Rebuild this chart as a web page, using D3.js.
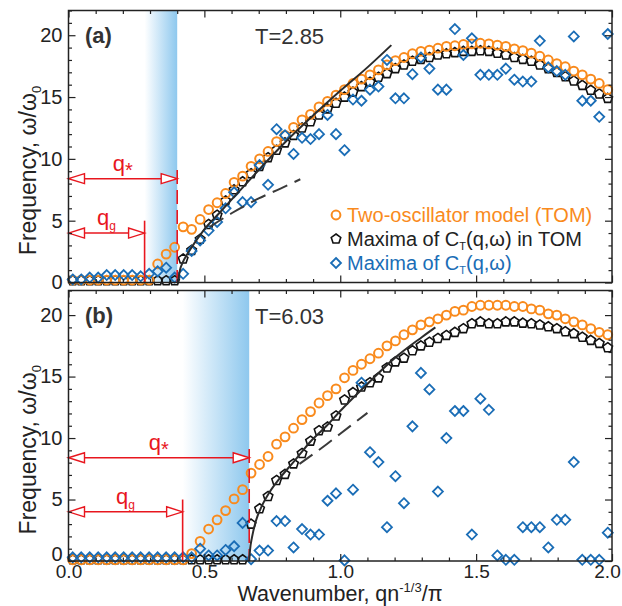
<!DOCTYPE html>
<html>
<head>
<meta charset="utf-8">
<script src="https://cdn.jsdelivr.net/npm/d3@7"></script>
<style>
body{margin:0;background:#fff}
text{font-family:"Liberation Sans",Arial,sans-serif}
</style>
</head>
<body>
<div id="chart"></div>
<script>
var width = 622, height = 606

// wavenumber grid (q n^-1/3 / pi), 64 samples
var qGrid = d3.range(64).map(k => (k + 0.5) / 32)

// panel (a), T=2.85
var tomA = [0.2,0.2,0.2,0.2,0.2,0.2,0.2,0.2,0.2,0.2,
  1.5,2.3,2.85,4.5,4.3,5.1,5.9,6.45,7.2,8.1,
  8.6,9.4,10.0,10.6,11.4,11.9,12.55,13.15,13.6,14.2,
  14.65,15.15,15.6,16.1,16.45,16.8,17.2,17.6,17.95,18.2,
  18.5,18.7,18.8,18.95,19.1,19.15,19.25,19.3,19.35,19.3,
  19.2,19.1,18.9,18.75,18.55,18.3,18.0,17.7,17.45,17.1,
  16.8,16.45,16.1,15.6]
var pentA = [0.15,0.15,0.15,0.15,0.15,0.15,0.15,0.15,0.15,0.15,
  0.15,0.15,0.15,1.9,2.6,3.5,4.7,5.45,6.6,7.5,
  8.15,8.8,9.4,10.1,10.7,11.3,11.9,12.5,13.0,13.55,
  14.05,14.5,15.0,15.4,15.85,16.2,16.6,16.9,17.3,17.6,
  17.9,18.05,18.2,18.4,18.5,18.6,18.7,18.7,18.75,18.7,
  18.55,18.4,18.2,18.05,17.9,17.6,17.3,17.0,16.65,16.3,
  15.95,15.55,15.25,14.9]
var diamA = [0.25,0.25,0.4,0.4,0.6,0.6,0.6,0.6,0.5,0.7,
  0.9,1.2,0.4,0.7,2.55,3.4,4.2,4.9,6.0,7.3,
  6.5,6.5,9.5,7.9,12.4,11.9,10.4,11.7,11.6,12.0,
  13.55,12.0,10.7,14.8,14.7,15.6,15.85,18.0,14.9,14.9,
  16.85,18.2,17.3,15.6,15.6,20.5,18.4,19.75,16.8,16.8,
  16.8,17.3,16.4,16.25,16.25,19.55,17.4,17.1,16.8,19.9,
  14.7,14.7,13.4,20.1]
var solidA = [[0.403,0],[0.41,1.0],[0.42,1.6],[0.44,2.4],[0.47,3.4],[0.5,4.3],[0.55,5.5],
  [0.6,6.7],[0.65,7.9],[0.7,9.1],[0.8,11.4],[0.9,13.5],[1.0,15.5],[1.1,17.4],[1.188,19.2]]
var dashA = [[0.52,4.5],[0.6,5.6],[0.7,6.8],[0.78,7.6],[0.853,8.35]]

// panel (b), T=6.03
var tomB = [0.1,0.1,0.1,0.1,0.1,0.1,0.1,0.1,0.1,0.1,
  0.1,0.1,0.1,0.1,0.6,1.6,2.6,3.35,4.1,5.05,
  5.8,7.15,7.85,8.5,9.5,10.1,10.8,11.5,12.15,12.85,
  13.45,14.0,14.9,15.5,16.0,16.45,16.9,17.5,17.9,18.4,
  18.8,19.2,19.45,19.7,20.0,20.3,20.4,20.7,20.8,20.8,
  20.8,20.8,20.7,20.7,20.5,20.4,20.1,20.0,19.7,19.45,
  19.2,18.9,18.6,18.4]
var pentB = [0.1,0.1,0.1,0.1,0.1,0.1,0.1,0.1,0.1,0.1,
  0.1,0.1,0.1,0.1,0.1,0.1,0.1,0.1,0.1,0.1,
  0.1,3.0,4.25,5.25,6.55,7.05,7.9,8.75,9.75,10.6,
  10.9,11.8,13.1,13.7,14.15,14.5,14.9,15.7,16.2,16.5,
  17.1,17.5,17.8,18.1,18.35,18.6,18.9,19.3,19.45,19.3,
  19.3,19.45,19.45,19.35,19.3,19.2,19.05,18.9,18.65,18.5,
  18.2,17.95,17.7,17.35]
var diamB = [0.3,0.3,0.3,0.3,0.3,0.3,0.3,0.3,0.3,0.3,
  0.3,0.3,0.3,0.3,0.3,1.0,0.45,0.45,0.9,1.2,
  3.1,0.15,0.85,0.85,3.25,3.25,1.1,2.6,2.15,2.15,
  4.9,5.5,0.05,5.8,14.5,8.85,8.05,2.75,6.9,4.7,
  10.95,15.3,13.95,5.65,10.0,12.2,12.2,2.15,13.2,12.3,
  0.45,0.1,0.1,2.75,2.75,2.75,1.1,3.35,3.35,8.05,
  0.1,0.1,0.1,2.3]
var solidB = [[0.665,0],[0.668,0.9],[0.675,1.9],[0.69,3.3],[0.71,4.4],[0.74,5.6],[0.78,6.8],
  [0.83,8.1],[0.89,9.7],[0.95,11.0],[1.0,12.2],[1.1,14.4],[1.2,16.5],[1.3,18.2],[1.35,19.0]]
var dashB = [[0.85,7.9],[0.95,9.5],[1.0,10.35],[1.1,12.05]]

var yTicks = [0,5,10,15,20]
var xTicks = [0,0.5,1,1.5,2]
var panelTags = ["(a)","(b)"]
var panelTemps = ["T=2.85","T=6.03"]
var qgVals = [0.28,0.42]
var qsVals = [0.40,0.665]
var legendLabels = ["Two-oscillator model (TOM)","Maxima of C|T|(q,ω) in TOM","Maxima of C|T|(q,ω)"]

var orange = "#f98a1c", blue = "#1a6db6", red = "#e8161e", ink = "#222"

var svg = d3.select("#chart").append("svg")
  .attr("width",width).attr("height",height)

var x = d3.scaleLinear().domain([0,2]).range([68.5,612])
var defs = svg.append("defs")

function pentPath(r){
  var pts = d3.range(5).map(i=>{
    var a = -Math.PI/2 + i*2*Math.PI/5
    return [r*Math.cos(a), r*Math.sin(a)]
  })
  return "M" + pts.join("L") + "Z"
}
var diamPath = "M0,-5L5,0L0,5L-5,0Z"

function arrow(g, x0, x1, yy){
  var L = 16, h = 5
  g.append("line").attr("x1",x0+L).attr("x2",x1-L).attr("y1",yy).attr("y2",yy)
    .attr("stroke",red).attr("stroke-width",1.5)
  g.append("path").attr("d",`M${x0},${yy}L${x0+L},${yy-h}L${x0+L},${yy+h}Z`)
    .attr("fill","#fff").attr("stroke",red).attr("stroke-width",1.4)
  g.append("path").attr("d",`M${x1},${yy}L${x1-L},${yy-h}L${x1-L},${yy+h}Z`)
    .attr("fill","#fff").attr("stroke",red).attr("stroke-width",1.4)
}

function panel(i, top, bottom, tom, pent, diam, solid, dash){
  var y = d3.scaleLinear().domain([0,22]).range([bottom,top])
  var g = svg.append("g")

  // blue shaded band between q_g and q_*
  var grad = defs.append("linearGradient").attr("id","shade"+i)
    .attr("gradientUnits","userSpaceOnUse")
    .attr("x1",x(qgVals[i])).attr("x2",x(qsVals[i])).attr("y1",0).attr("y2",0)
  grad.append("stop").attr("offset",0).attr("stop-color","#ffffff")
  grad.append("stop").attr("offset",1).attr("stop-color","#8ec8ee")
  g.append("rect").attr("x",x(qgVals[i])).attr("y",top)
    .attr("width",x(qsVals[i])-x(qgVals[i])).attr("height",bottom-top)
    .attr("fill",`url(#shade${i})`)

  g.append("g").selectAll("path").data(pent).enter().append("path")
    .attr("d",pentPath(5))
    .attr("transform",(d,k)=>`translate(${x(qGrid[k])},${y(d)})`)
    .attr("fill","none").attr("stroke","#111").attr("stroke-width",1.6)

  g.append("g").selectAll("circle").data(tom).enter().append("circle")
    .attr("cx",(d,k)=>x(qGrid[k])).attr("cy",d=>y(d)).attr("r",4.4)
    .attr("fill","none").attr("stroke",orange).attr("stroke-width",2)

  g.append("g").selectAll("path").data(diam).enter().append("path")
    .attr("d",diamPath)
    .attr("transform",(d,k)=>`translate(${x(qGrid[k])},${y(d)})`)
    .attr("fill","none").attr("stroke",blue).attr("stroke-width",1.8)

  // red annotations
  var qg = x(qgVals[i]), qs = x(qsVals[i])
  g.append("line").attr("x1",qg).attr("x2",qg).attr("y1",y(0)).attr("y2",y(5))
    .attr("stroke",red).attr("stroke-width",1.6)
  g.append("line").attr("x1",qs).attr("x2",qs).attr("y1",y(9.1)).attr("y2",y(0))
    .attr("stroke",red).attr("stroke-width",1.6).attr("stroke-dasharray","14,6")
  arrow(g, x(0), qg, y(4))
  arrow(g, x(0), qs, y(8.4))

  var tg = g.append("text").attr("x",(x(0)+qg)/2).attr("y",y(4)-8)
    .attr("text-anchor","middle").attr("fill",red).style("font-size","22px")
  tg.append("tspan").text("q")
  tg.append("tspan").text("g").attr("dy",5).style("font-size","12px")
  var ts = g.append("text").attr("x",(x(0)+qs)/2).attr("y",y(8.4)-8)
    .attr("text-anchor","middle").attr("fill",red).style("font-size","22px")
  ts.append("tspan").text("q")
  ts.append("tspan").text("*").attr("dy",6).style("font-size","20px")

  // fitted curves
  var line = d3.line().x(d=>x(d[0])).y(d=>y(d[1])).curve(d3.curveMonotoneX)
  g.append("path").datum(solid).attr("d",line)
    .attr("fill","none").attr("stroke","#2b2b2b").attr("stroke-width",2)
  g.append("path").datum(dash).attr("d",line)
    .attr("fill","none").attr("stroke","#3a3a3a").attr("stroke-width",2)
    .attr("stroke-dasharray","16,8")

  // frame and ticks
  g.append("rect").attr("x",x(0)).attr("y",top).attr("width",x(2)-x(0)).attr("height",bottom-top)
    .attr("fill","none").attr("stroke",ink).attr("stroke-width",1.5)

  var yMinor = d3.range(0,23).filter(v=>v%5!=0)
  var xMinor = d3.range(0,21).map(v=>v/10).filter(v=>Math.round(v*10)%5!=0)

  function clean(s){
    s.select(".domain").remove()
    s.selectAll("line").attr("stroke",ink).attr("stroke-width",1.2)
    s.selectAll("text").attr("fill",ink).style("font-size","20px")
      .style("font-family","'Liberation Sans',Arial,sans-serif")
  }
  var lax = g.append("g").attr("transform",`translate(${x(0)},0)`)
    .call(d3.axisLeft(y).tickValues(yTicks).tickSize(-7).tickPadding(6)).call(clean)
  if(i==1) lax.selectAll("text").filter(d=>d==0).attr("dy","-0.05em")
  g.append("g").attr("transform",`translate(${x(0)},0)`)
    .call(d3.axisLeft(y).tickValues(yMinor).tickSize(-3.5).tickFormat("")).call(clean)
  g.append("g").attr("transform",`translate(${x(2)},0)`)
    .call(d3.axisRight(y).tickValues(yTicks).tickSize(-7).tickFormat("")).call(clean)
  g.append("g").attr("transform",`translate(${x(2)},0)`)
    .call(d3.axisRight(y).tickValues(yMinor).tickSize(-3.5).tickFormat("")).call(clean)
  g.append("g").attr("transform",`translate(0,${top})`)
    .call(d3.axisTop(x).tickValues(xTicks).tickSize(-7).tickFormat("")).call(clean)
  g.append("g").attr("transform",`translate(0,${top})`)
    .call(d3.axisTop(x).tickValues(xMinor).tickSize(-3.5).tickFormat("")).call(clean)
  var bx = d3.axisBottom(x).tickValues(xTicks).tickSize(-7).tickPadding(4)
  if(i==1) bx.tickFormat(d3.format(".1f")); else bx.tickFormat("")
  var bax = g.append("g").attr("transform",`translate(0,${bottom})`).call(bx).call(clean)
  if(i==1){
    bax.selectAll("text").style("font-size","19px")
    bax.selectAll("text").filter(d=>d==2).attr("x",-5)
  }
  g.append("g").attr("transform",`translate(0,${bottom})`)
    .call(d3.axisBottom(x).tickValues(xMinor).tickSize(-3.5).tickFormat("")).call(clean)

  // panel tags
  g.append("text").attr("x",85).attr("y",top+32.5).text(panelTags[i])
    .attr("fill","#333").style("font-size","22px").style("font-weight","bold")
  g.append("text").attr("x",255).attr("y",top+33).text(panelTemps[i])
    .attr("fill","#333").style("font-size","22px")

  // y title
  var yt = g.append("text")
    .attr("transform",`translate(36,${(top+bottom)/2+24})rotate(-90)`)
    .attr("text-anchor","middle").attr("fill",ink).style("font-size","23px")
  yt.append("tspan").text("Frequency, ω/ω")
  yt.append("tspan").text("0").attr("dy",5).style("font-size","13px")

  return y
}

panel(0, 10.5, 282.5, tomA, pentA, diamA, solidA, dashA)
panel(1, 290.5, 561, tomB, pentB, diamB, solidB, dashB)

// legend in panel (a)
var leg = svg.append("g")
var legColors = [orange, "#222", blue]
legendLabels.forEach((lab,j)=>{
  var cy = 215 + j*24
  if(j==0) leg.append("circle").attr("cx",336).attr("cy",cy).attr("r",4.4)
    .attr("fill","none").attr("stroke",orange).attr("stroke-width",2)
  if(j==1) leg.append("path").attr("d",pentPath(5)).attr("transform",`translate(336,${cy})`)
    .attr("fill","none").attr("stroke","#111").attr("stroke-width",1.6)
  if(j==2) leg.append("path").attr("d",diamPath).attr("transform",`translate(336,${cy})`)
    .attr("fill","none").attr("stroke",blue).attr("stroke-width",1.8)
  var t = leg.append("text").attr("x",347).attr("y",cy+7)
    .attr("fill",legColors[j]).style("font-size","20px")
  var parts = lab.split("|")
  t.append("tspan").text(parts[0])
  if(parts.length>1){
    t.append("tspan").text(parts[1]).attr("dy",4).style("font-size","11px")
    t.append("tspan").text(parts[2]).attr("dy",-4)
  }
})

// x title
var xt = svg.append("text").attr("x",340).attr("y",601).attr("text-anchor","middle")
  .attr("fill",ink).style("font-size","21.5px")
xt.append("tspan").text("Wavenumber, qn")
xt.append("tspan").text("-1/3").attr("dy",-9).style("font-size","13px")
xt.append("tspan").text("/π").attr("dy",9)
</script>
</body>
</html>
